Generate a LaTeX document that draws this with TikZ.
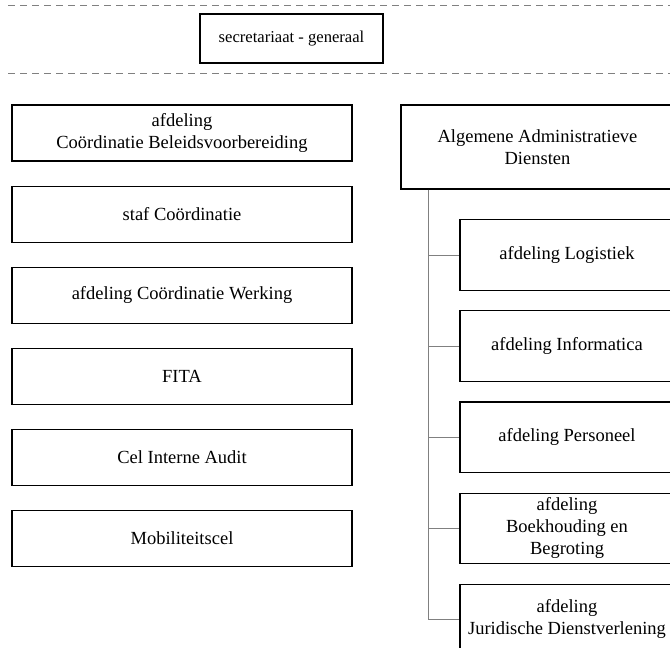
\documentclass[tikz,border=0pt]{standalone}
\usepackage{fontspec}
\setmainfont{Liberation Serif}
\usetikzlibrary{positioning}

\begin{document}
\begin{tikzpicture}[x=1pt, y=-1pt, unit/.style={draw, line width=1.1pt, align=center, font=\fontsize{18.5}{22}\selectfont}, leftbox/.style={unit, minimum width=340pt, minimum height=56pt}, subbox/.style={unit, minimum width=214pt, minimum height=70.5pt}, sep/.style={draw=black!50, line width=1pt, dash pattern=on 7pt off 5pt}, branch/.style={draw=black!50, line width=0.7pt}]
        \useasboundingbox (0,0) rectangle (670,648);

        % top band
        \coordinate (t1) at (8,5);
        \coordinate (t2) at (672,5);
        \coordinate (b1) at (8,73);
        \coordinate (b2) at (672,73);
        \path[sep] (t1) -- (t2);
        \path[sep] (b1) -- (b2);
        \node[unit, minimum width=183pt, minimum height=49pt, font=\fontsize{16.6}{20}\selectfont] (sg) at (291.5,38.5) {secretariaat - generaal};

        % left column
        \node[leftbox] (cb) at (182,133) {afdeling\\Coördinatie Beleidsvoorbereiding};
        \node[leftbox, below=24pt of cb] (staf) {staf Coördinatie};
        \node[leftbox, below=24pt of staf] (cw) {afdeling Coördinatie Werking};
        \node[leftbox, below=24pt of cw] (fita) {FITA};
        \node[leftbox, below=24pt of fita] (audit) {Cel Interne Audit};
        \node[leftbox, below=24pt of audit] (mob) {Mobiliteitscel};

        % right column
        \node[unit, minimum width=273pt, minimum height=84pt] (aad) at (537.5,147) {Algemene Administratieve\\Diensten};
        \node[subbox] (log) at (567,255) {afdeling Logistiek};
        \node[subbox, below=19.5pt of log] (inf) {afdeling Informatica};
        \node[subbox, below=19.5pt of inf] (pers) {afdeling Personeel};
        \node[subbox, below=19.5pt of pers] (boek) {afdeling\\Boekhouding en\\Begroting};
        \node[subbox, below=19.5pt of boek] (jur) {afdeling\\Juridische Dienstverlening};

        \coordinate (trunk) at (428,189);
        \path[branch] (aad.south -| trunk) |- (jur.west);
        \path[branch] (trunk |- log.west) -- (log.west);
        \path[branch] (trunk |- inf.west) -- (inf.west);
        \path[branch] (trunk |- pers.west) -- (pers.west);
        \path[branch] (trunk |- boek.west) -- (boek.west);
    \end{tikzpicture}
\end{document}
